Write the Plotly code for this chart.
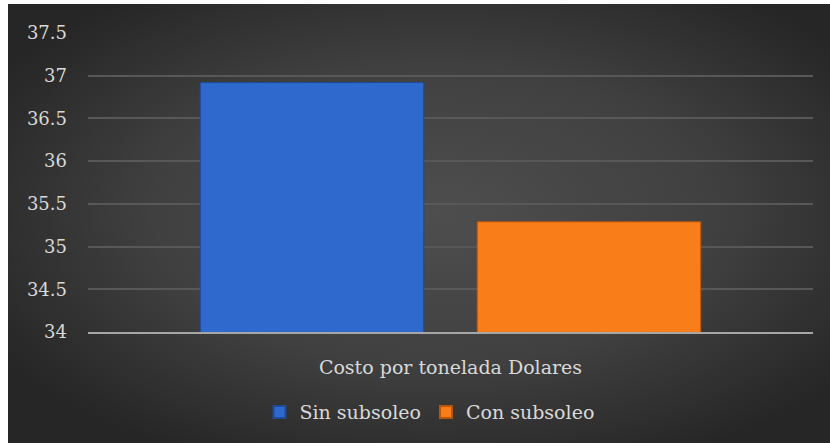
import base64
import plotly.graph_objects as go

categories = ["Costo por tonelada Dolares"]
series_names = ["Sin subsoleo", "Con subsoleo"]
sin_subsoleo = [36.92]
con_subsoleo = [35.29]
tick_vals = [34, 34.5, 35, 35.5, 36, 36.5, 37, 37.5]
tick_text = ["34", "34.5", "35", "35.5", "36", "36.5", "37", "37.5"]

W, H = 830, 443
L, R, T, B = 88, 17, 33, 111.3
pw, ph = W - L - R, H - T - B

svg = (
    '<svg xmlns="http://www.w3.org/2000/svg" width="822" height="439" '
    'preserveAspectRatio="none" viewBox="0 0 822 439">'
    '<defs><radialGradient id="g" cx="52%" cy="48%" r="62%">'
    '<stop offset="0" stop-color="#4e4e4e"/>'
    '<stop offset="0.55" stop-color="#404040"/>'
    '<stop offset="1" stop-color="#262626"/>'
    '</radialGradient></defs>'
    '<rect x="0" y="0" width="822" height="439" fill="url(#g)"/></svg>'
)
bg_src = "data:image/svg+xml;base64," + base64.b64encode(svg.encode()).decode()

font_family = "DejaVu Serif"
txt_color = "#d9d9d9"

fig = go.Figure()
fig.add_trace(go.Bar(
    name=series_names[0], x=categories, y=sin_subsoleo,
    marker=dict(color="#2f69cd", line=dict(color="#1d4a99", width=1)),
))
fig.add_trace(go.Bar(
    name=series_names[1], x=categories, y=con_subsoleo,
    marker=dict(color="#f97d18", line=dict(color="#b9560c", width=1)),
))

fig.update_layout(
    width=W, height=H,
    margin=dict(l=L, r=R, t=T, b=B, pad=0),
    paper_bgcolor="white",
    plot_bgcolor="rgba(0,0,0,0)",
    barmode="group",
    bargap=0.236,
    bargroupgap=0.193,
    font=dict(family=font_family, color=txt_color),
    showlegend=True,
    legend=dict(
        orientation="h",
        x=(429.5 - L) / pw, xanchor="center",
        y=(H - B - 411.7) / ph, yanchor="middle",
        font=dict(size=19, color=txt_color, family=font_family),
        bgcolor="rgba(0,0,0,0)",
        itemsizing="constant",
    ),
    images=[dict(
        source=bg_src, xref="paper", yref="paper",
        x=(8 - L) / pw, y=(H - B - 4) / ph,
        sizex=(W - 8) / pw, sizey=(H - 4) / ph,
        sizing="stretch", xanchor="left", yanchor="top",
        layer="below",
    )],
)

fig.update_yaxes(
    range=[34, 37.5],
    tickvals=tick_vals, ticktext=tick_text,
    showgrid=True, gridcolor="#585858", gridwidth=1.5,
    zeroline=False, showline=False,
    tickfont=dict(size=18, color=txt_color, family=font_family),
    ticks="", ticklabelstandoff=20,
)
fig.update_xaxes(
    showgrid=False, showline=True, linecolor="#a6a6a6", linewidth=2,
    tickfont=dict(size=19, color=txt_color, family=font_family),
    ticks="", ticklabelstandoff=17,
)

fig.write_html("out.html")
